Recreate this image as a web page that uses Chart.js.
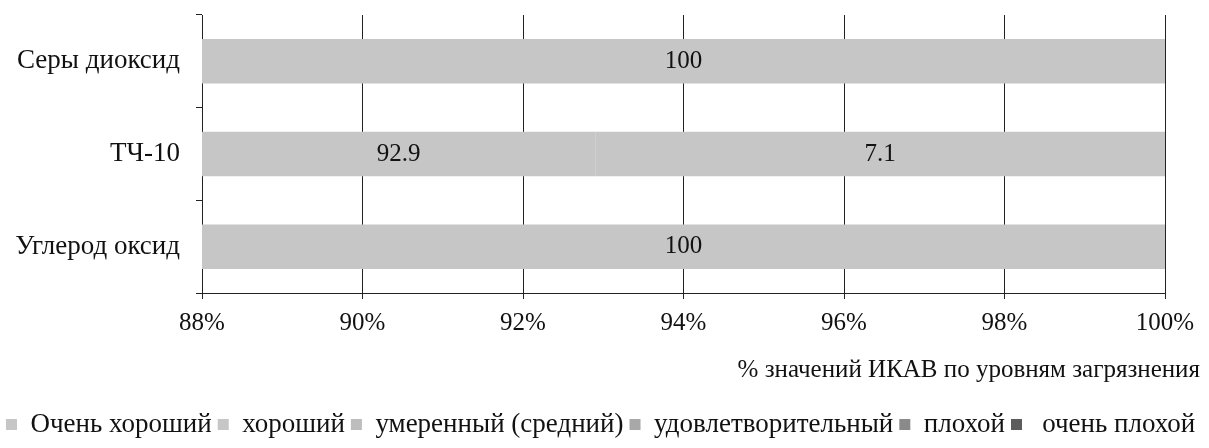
<!DOCTYPE html>
<html>
<head>
<meta charset="utf-8">
<script src="https://cdn.jsdelivr.net/npm/chart.js@4.4.0/dist/chart.umd.min.js"></script>
<style>
  html, body { margin: 0; padding: 0; background: #fff; }
  #wrap { width: 1209px; height: 448px; }
</style>
</head>
<body>
<div id="wrap"><canvas id="chart" width="1209" height="448"></canvas></div>
<script>
// --- data ---
const categories = ['Серы диоксид', 'ТЧ-10', 'Углерод оксид'];
const seriesNames = ['Очень хороший', 'хороший', 'умеренный (средний)', 'удовлетворительный', 'плохой', ' очень плохой'];
const veryGood   = [100, 92.9, 100];
const good       = [null, 7.1, null];
const moderate   = [null, null, null];
const satisfying = [null, null, null];
const bad        = [null, null, null];
const veryBad    = [null, null, null];
const xTicks     = [88, 90, 92, 94, 96, 98, 100];
const axisTitle  = '% значений ИКАВ по уровням загрязнения';

const seriesValues = [veryGood, good, moderate, satisfying, bad, veryBad];
const seriesColors = ['#c6c6c6', '#c6c6c6', '#bdbdbd', '#a8a8a8', '#8a8a8a', '#5c5c5c'];
const FONT = "'Liberation Serif', 'Times New Roman', serif";
const TITLE_SIZE = 25;
const TITLE_PAD_BOTTOM = 20;

// value labels centred on the visible part of each segment,
// axis title drawn right-aligned past the plot edge like the original
const segmentLabels = {
  id: 'segmentLabels',
  afterDatasetsDraw(chart) {
    const { ctx, chartArea } = chart;
    ctx.save();
    ctx.font = '25px ' + FONT;
    ctx.fillStyle = '#111';
    ctx.textAlign = 'center';
    ctx.textBaseline = 'middle';
    chart.data.datasets.forEach((ds, di) => {
      chart.getDatasetMeta(di).data.forEach((bar, i) => {
        const v = ds.data[i];
        if (v == null) return;
        const x0 = Math.max(Math.min(bar.base, bar.x), chartArea.left);
        const x1 = Math.min(Math.max(bar.base, bar.x), chartArea.right);
        if (x1 <= x0) return;
        ctx.fillText(String(v), (x0 + x1) / 2, bar.y);
      });
    });
    const xs = chart.scales.x;
    ctx.font = TITLE_SIZE + 'px ' + FONT;
    ctx.textAlign = 'right';
    ctx.fillText(axisTitle, chart.width - 9, xs.bottom - TITLE_PAD_BOTTOM - TITLE_SIZE * 0.6);
    ctx.restore();
  }
};

new Chart(document.getElementById('chart'), {
  type: 'bar',
  data: {
    labels: categories,
    datasets: seriesNames.map((name, k) => ({
      label: name,
      data: seriesValues[k],
      backgroundColor: seriesColors[k],
      borderWidth: 0,
      inflateAmount: 0,
      barPercentage: 0.48,
      categoryPercentage: 1
    }))
  },
  options: {
    indexAxis: 'y',
    responsive: false,
    animation: false,
    layout: { padding: { top: 15, right: 0, left: 0, bottom: 0 } },
    plugins: {
      tooltip: { enabled: false },
      legend: {
        position: 'bottom',
        align: 'start',
        labels: {
          color: '#111',
          font: { family: FONT, size: 27 },
          boxWidth: 11,
          boxHeight: 11,
          padding: 6
        }
      }
    },
    scales: {
      x: {
        stacked: true,
        min: 88,
        max: 100,
        afterBuildTicks: s => { s.ticks = xTicks.map(v => ({ value: v })); },
        ticks: {
          color: '#111',
          font: { family: FONT, size: 25 },
          padding: 9,
          maxRotation: 0,
          callback: v => v + '%'
        },
        grid: { color: '#222', lineWidth: 1, tickLength: 6 },
        border: { color: '#222' },
        title: {
          display: true,
          text: axisTitle,
          color: 'rgba(0,0,0,0)',
          font: { family: FONT, size: TITLE_SIZE },
          padding: { top: 8, bottom: TITLE_PAD_BOTTOM }
        }
      },
      y: {
        stacked: true,
        afterFit: s => { s.width = 202; s.paddingTop = 0; s.paddingBottom = 0; },
        ticks: { color: '#111', font: { family: FONT, size: 27 }, padding: 16 },
        grid: { drawOnChartArea: false, offset: true, tickLength: 6, color: '#222' },
        border: { color: '#222' }
      },
      // empty strip on the right, keeps the plot edge at the original place
      yRight: {
        position: 'right',
        afterFit: s => { s.width = 44; s.paddingTop = 0; s.paddingBottom = 0; },
        ticks: { display: false },
        grid: { display: false },
        border: { display: false }
      }
    }
  },
  plugins: [segmentLabels]
});
</script>
</body>
</html>
